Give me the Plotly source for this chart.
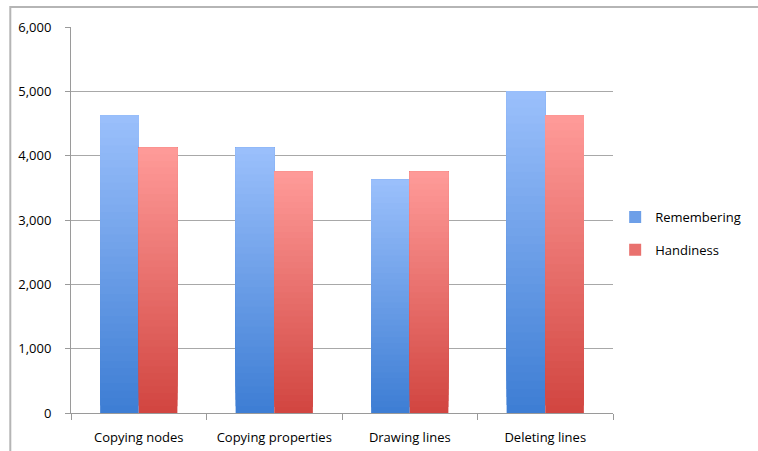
import plotly.graph_objects as go

categories = ["Copying nodes", "Copying properties", "Drawing lines", "Deleting lines"]
remembering = [4625, 4125, 3625, 5000]
handiness = [4125, 3750, 3750, 4625]
y_ticks = [0, 1000, 2000, 3000, 4000, 5000, 6000]
y_tick_labels = ["0", "1,000", "2,000", "3,000", "4,000", "5,000", "6,000"]

font = "Open Sans, Liberation Sans, sans-serif"

# gradient endpoints (bottom, top) per series
blue_grad = ((61, 125, 211), (155, 192, 252))
red_grad = ((209, 69, 64), (255, 155, 153))
N_STEPS = 40


def mix(c0, c1, t):
    return "rgb(%d,%d,%d)" % tuple(round(a + (b - a) * t) for a, b in zip(c0, c1))


fig = go.Figure()


def add_gradient_series(values, name, grad, group):
    # each layer spans from its start to the bar's top; later layers cover
    # earlier ones, leaving a seamless vertical gradient
    for i in range(N_STEPS):
        t = (i + 0.5) / N_STEPS
        fig.add_trace(go.Bar(
            x=categories,
            y=[v * (N_STEPS - i) / N_STEPS for v in values],
            base=[v * i / N_STEPS for v in values],
            name=name,
            offsetgroup=group,
            legendgroup=group,
            showlegend=(i == N_STEPS // 2),
            marker=dict(color=mix(grad[0], grad[1], t), line=dict(width=0)),
            hovertemplate="%{x}<br>" + name + ": %{customdata:,}<extra></extra>",
            customdata=values,
        ))


add_gradient_series(remembering, "Remembering", blue_grad, "a")
add_gradient_series(handiness, "Handiness", red_grad, "b")

fig.update_layout(
    width=758, height=451,
    margin=dict(l=71, r=143, t=27, b=38),
    paper_bgcolor="white", plot_bgcolor="white",
    barmode="group", bargap=0.43, bargroupgap=0,
    font=dict(family=font, size=13, color="#000000"),
    legend=dict(x=1.004, y=0.465, xanchor="left", yanchor="middle",
                tracegroupgap=13, font=dict(size=13, family=font),
                itemwidth=30, traceorder="grouped"),
    showlegend=True,
    xaxis=dict(showline=True, linecolor="#9a9a9a", linewidth=1, automargin=False,
               ticks="outside", tickson="boundaries", ticklen=6, tickcolor="#9a9a9a",
               showgrid=False, tickfont=dict(size=13), ticklabelstandoff=12),
    yaxis=dict(range=[0, 6000], tickvals=y_ticks, ticktext=y_tick_labels,
               showline=True, linecolor="#9a9a9a", linewidth=1, automargin=False,
               ticks="outside", ticklen=5, tickcolor="#9a9a9a",
               showgrid=True, gridcolor="#a8a8a8", gridwidth=1,
               zeroline=False, tickfont=dict(size=13), ticklabelstandoff=11),
    shapes=[dict(type="rect", xref="paper", yref="paper",
                 x0=-0.112, x1=1.4, y0=-0.3, y1=1.052,
                 line=dict(color="#b5b5b5", width=2), layer="below")],
)

fig.write_html("out.html")
